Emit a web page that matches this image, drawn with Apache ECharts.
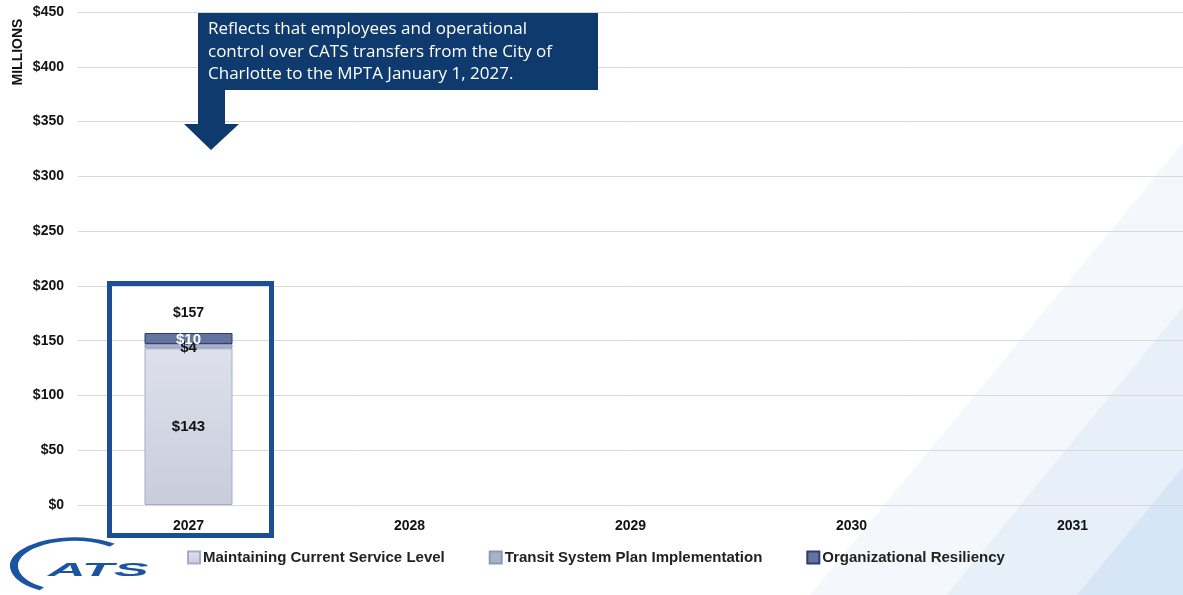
<!DOCTYPE html>
<html><head><meta charset="utf-8">
<script src="https://cdn.jsdelivr.net/npm/echarts@6/dist/echarts.min.js"></script>
<style>html,body{margin:0;padding:0;background:#fff}#c{width:1183px;height:595px}</style>
</head><body><div id="c"></div>
<script>
const years = ['2027','2028','2029','2030','2031'];
const maintaining = [143, null, null, null, null];
const transit = [4, null, null, null, null];
const resiliency = [10, null, null, null, null];
const yTicks = [0,50,100,150,200,250,300,350,400,450];
const totals = years.map((y,i)=> (maintaining[i]==null?null:(maintaining[i]||0)+(transit[i]||0)+(resiliency[i]||0)));

const chart = echarts.init(document.getElementById('c'));
const F = '"Liberation Sans", Arial, sans-serif';
const lab = (color, extra) => Object.assign({show:true,position:'inside',formatter:p=>'$'+p.value,fontFamily:F,fontWeight:'bold',fontSize:15,color:color}, extra||{});
chart.setOption({
  animation:false,
  grid:{left:78,right:0,top:12,bottom:90},
  legend:{
    left:182, top:545, itemWidth:12, itemHeight:12, itemGap:44, icon:'rect',
    textStyle:{fontFamily:F,fontWeight:'bold',fontSize:15,color:'#222',padding:[0,0,0,-2]},
    data:['Maintaining Current Service Level','Transit System Plan Implementation','Organizational Resiliency']
  },
  xAxis:{type:'category',data:years,
    axisLine:{show:false},axisTick:{show:false},
    axisLabel:{fontFamily:F,fontWeight:'bold',fontSize:14,color:'#111',margin:14}},
  yAxis:{type:'value',min:yTicks[0],max:yTicks[yTicks.length-1],interval:yTicks[1]-yTicks[0],
    axisLabel:{fontFamily:F,fontWeight:'bold',fontSize:14,color:'#111',margin:14,formatter:v=>'$'+v},
    splitLine:{lineStyle:{color:'#d9d9d9',width:1}},
    axisLine:{show:false},axisTick:{show:false}},
  series:[
    {name:'Maintaining Current Service Level',type:'bar',stack:'t',barWidth:88,data:maintaining,
      itemStyle:{color:new echarts.graphic.LinearGradient(0,0,0,1,[{offset:0,color:'#dee1eb'},{offset:1,color:'#c8cddd'}]),borderColor:'#a3adc6',borderWidth:1},
      label:lab('#111')},
    {name:'Transit System Plan Implementation',type:'bar',stack:'t',data:transit,
      itemStyle:{color:'#a9b2cb',borderColor:'#8d98b8',borderWidth:1},
      label:lab('#111',{offset:[0,2]})},
    {name:'Organizational Resiliency',type:'bar',stack:'t',data:resiliency,
      itemStyle:{color:'#65739f',borderColor:'#2c3d6e',borderWidth:1},
      label:lab('#fff',{offset:[0,1]})},
    {name:'total',type:'bar',stack:'t',data:totals.map(v=>v==null?null:0),silent:true,
      itemStyle:{color:'transparent'},
      label:{show:true,position:'top',distance:13,formatter:p=>'$'+totals[p.dataIndex],fontFamily:F,fontWeight:'bold',fontSize:14,color:'#111'}}
  ],
  graphic:[
    {type:'polygon',z:-10,silent:true,shape:{points:[[1183,143],[1183,595],[810,595]]},style:{fill:'#f4f8fc'}},
    {type:'polygon',z:-9,silent:true,shape:{points:[[1183,307],[1183,595],[947,595]]},style:{fill:'#e7eff8'}},
    {type:'polygon',z:-8,silent:true,shape:{points:[[1183,467],[1183,595],[1077,595]]},style:{fill:'#d7e6f6'}},
    {type:'text',z:50,silent:true,x:18,y:52,rotation:Math.PI/2,style:{text:'MILLIONS',fill:'#111',font:'bold 14px "Liberation Sans", Arial, sans-serif',align:'center',verticalAlign:'middle'}},
    {type:'rect',z:50,silent:true,shape:{x:109.5,y:283.5,width:162,height:252},style:{fill:'none',stroke:'#1b4f95',lineWidth:5}},
    {type:'rect',z:50,silent:true,shape:{x:198,y:13,width:400,height:77},style:{fill:'#0f3a6d'}},
    {type:'polygon',z:50,silent:true,shape:{points:[[198,89],[225,89],[225,124],[239,124],[211,150],[184,124],[198,124]]},style:{fill:'#0f3a6d'}},
    {type:'text',z:51,silent:true,left:208,top:18,style:{text:'Reflects that employees and operational\ncontrol over CATS transfers from the City of\nCharlotte to the MPTA January 1, 2027.',fill:'#fff',font:'17px "Open Sans", sans-serif',lineHeight:22.5}},
    {type:'arc',z:40,silent:true,shape:{cx:74,cy:566,r:60,startAngle:Math.PI*0.68,endAngle:Math.PI*1.72,clockwise:true},scaleY:0.45,originX:74,originY:566,style:{stroke:'#1a54a3',fill:'none',lineWidth:8}},
    {type:'text',z:41,silent:true,x:48,y:561,scaleX:2.75,originX:0,originY:0,style:{text:'ATS',fill:'#1a54a3',font:'italic bold 19px "Liberation Sans", Arial, sans-serif'}}
  ]
});
</script></body></html>
